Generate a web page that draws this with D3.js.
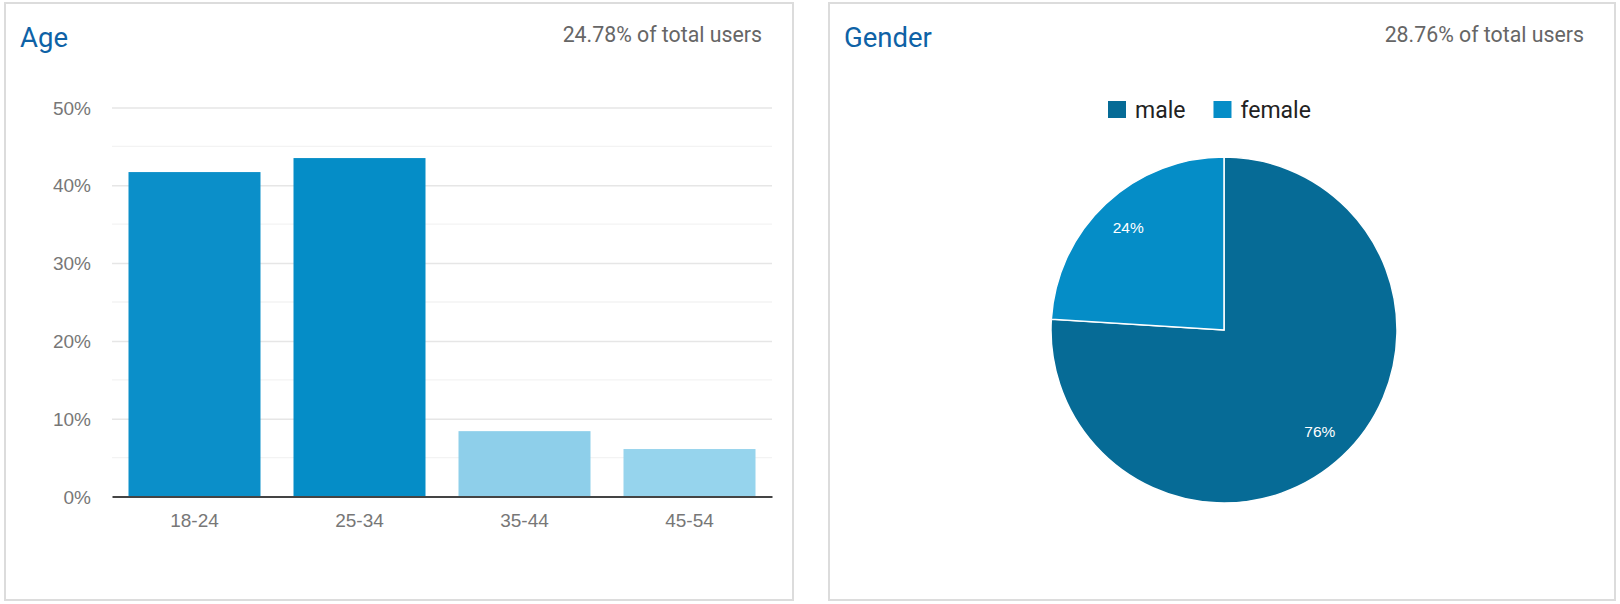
<!DOCTYPE html>
<html>
<head>
<meta charset="utf-8">
<script src="https://cdn.jsdelivr.net/npm/d3@7"></script>
<style>
  html, body { margin: 0; padding: 0; background: #fff; }
  svg { display: block; }
</style>
</head>
<body>
<div id="chart"></div>
<script>
// Age panel data
const ageGroups = ['18-24', '25-34', '35-44', '45-54'];
const agePct = [41.7, 43.5, 8.4, 6.1];
const ageTicks = [0, 10, 20, 30, 40, 50];
const ageMinorTicks = [5, 15, 25, 35, 45];

// Gender panel data
const genders = ['male', 'female'];
const genderPct = [76, 24];

const panelTitles = ['Age', 'Gender'];
const panelSubtitles = ['24.78% of total users', '28.76% of total users'];

// styles
const barColors = ['#0b8fc9', '#058dc7', '#8ecfea', '#96d4ed'];
const pieColors = ['#066b96', '#058dc7'];
const roboto = 'Roboto, "Noto Sans", sans-serif';
const arial = '"Liberation Sans", Arial, sans-serif';

const width = 1620, height = 604;

const svg = d3.select('#chart').append('svg')
  .attr('width', width)
  .attr('height', height);

// panel frames
const panels = [
  { x: 5, y: 3, w: 788, h: 597 },
  { x: 829, y: 3, w: 786, h: 597 },
];
panels.forEach((p, i) => {
  svg.append('rect')
    .attr('x', p.x).attr('y', p.y)
    .attr('width', p.w).attr('height', p.h)
    .attr('fill', '#fff')
    .attr('stroke', '#dcdcdc')
    .attr('stroke-width', 2);
  svg.append('text')
    .attr('x', p.x + 15).attr('y', 46.5)
    .attr('font-family', roboto)
    .attr('font-size', 27.5)
    .attr('fill', '#0e62a6')
    .text(panelTitles[i]);
  svg.append('text')
    .attr('x', p.x + p.w - 31).attr('y', 42)
    .attr('text-anchor', 'end')
    .attr('font-family', roboto)
    .attr('font-size', 21.3)
    .attr('fill', '#666')
    .text(panelSubtitles[i]);
});

// ---- Age bar chart ----
const plot = { left: 112, right: 772, top: 107.5, bottom: 496.5 };

const x = d3.scaleBand()
  .domain(ageGroups)
  .range([plot.left, plot.right])
  .paddingInner(0.2)
  .paddingOuter(0.1);

const y = d3.scaleLinear()
  .domain([0, 50])
  .range([plot.bottom, plot.top]);

const gBar = svg.append('g');

// minor grid
gBar.append('g')
  .selectAll('line')
  .data(ageMinorTicks)
  .join('line')
  .attr('x1', plot.left).attr('x2', plot.right)
  .attr('y1', d => y(d)).attr('y2', d => y(d))
  .attr('stroke', '#f3f3f3')
  .attr('stroke-width', 1.3);

// y axis with gridlines
const yAxis = gBar.append('g')
  .attr('transform', `translate(${plot.left},0)`)
  .call(d3.axisLeft(y).tickValues(ageTicks)
    .tickSize(-(plot.right - plot.left))
    .tickPadding(21)
    .tickFormat(d => d + '%'));
yAxis.select('.domain').remove();
yAxis.selectAll('line')
  .attr('stroke', d => d === 0 ? 'none' : '#e6e6e6')
  .attr('stroke-width', 1.5);
yAxis.selectAll('text')
  .attr('font-family', arial)
  .attr('font-size', 19)
  .attr('fill', '#777')
  .attr('dy', '0.35em');

// bars
gBar.append('g')
  .selectAll('rect')
  .data(agePct)
  .join('rect')
  .attr('x', (d, i) => x(ageGroups[i]))
  .attr('width', x.bandwidth())
  .attr('y', d => y(d))
  .attr('height', d => y(0) - y(d))
  .attr('fill', (d, i) => barColors[i]);

// baseline + x labels
const xAxis = gBar.append('g')
  .attr('transform', `translate(0,${y(0)})`)
  .call(d3.axisBottom(x).tickSize(0).tickPadding(17));
xAxis.select('.domain')
  .attr('stroke', '#444')
  .attr('stroke-width', 2);
xAxis.selectAll('text')
  .attr('font-family', arial)
  .attr('font-size', 19)
  .attr('fill', '#777');

// ---- Gender pie ----
const cx = 1224, cy = 330, radius = 173;

const pie = d3.pie().sort(null).value(d => d)(genderPct);
const arc = d3.arc().innerRadius(0).outerRadius(radius);
const labelArc = d3.arc().innerRadius(140).outerRadius(140);

const gPie = svg.append('g')
  .attr('transform', `translate(${cx},${cy})`);

gPie.selectAll('path')
  .data(pie)
  .join('path')
  .attr('d', arc)
  .attr('fill', (d, i) => pieColors[i])
  .attr('stroke', '#fff')
  .attr('stroke-width', 1.5);

gPie.selectAll('text')
  .data(pie)
  .join('text')
  .attr('transform', d => `translate(${labelArc.centroid(d)})`)
  .attr('text-anchor', 'middle')
  .attr('dy', '0.35em')
  .attr('font-family', arial)
  .attr('font-size', 15.5)
  .attr('fill', '#fff')
  .text(d => d.data + '%');

// legend
const legend = svg.append('g')
  .attr('transform', 'translate(1108,101)');
let lx = 0;
genders.forEach((g, i) => {
  const item = legend.append('g').attr('transform', `translate(${lx},0)`);
  item.append('rect')
    .attr('width', 18).attr('height', 17)
    .attr('fill', pieColors[i]);
  const t = item.append('text')
    .attr('x', 27).attr('y', 16.5)
    .attr('font-family', roboto)
    .attr('font-size', 23)
    .attr('fill', '#222')
    .text(g);
  lx += 27 + t.node().getComputedTextLength() + 28;
});
</script>
</body>
</html>
